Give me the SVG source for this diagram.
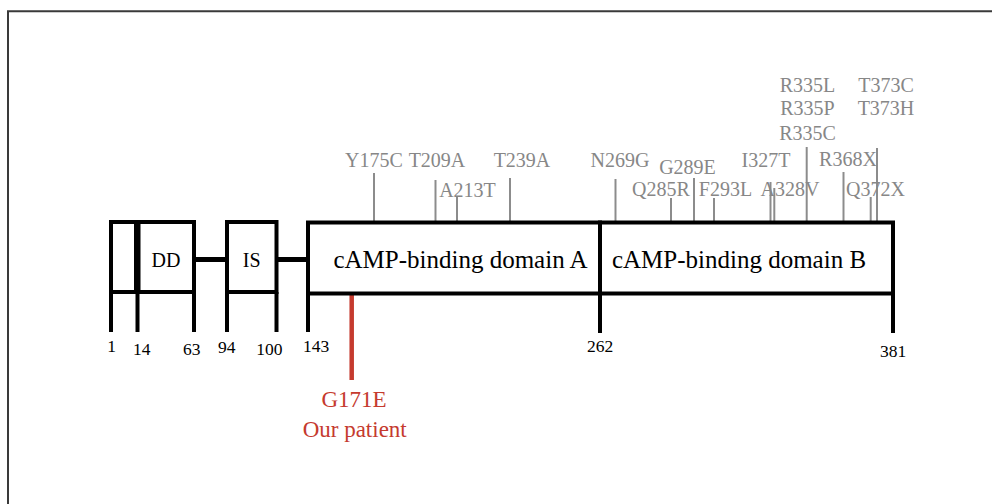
<svg xmlns="http://www.w3.org/2000/svg" width="992" height="504" viewBox="0 0 992 504">
<style>
text{font-family:"Liberation Serif","Times New Roman",serif;text-anchor:middle}
.box{fill:#fff;stroke:#000;stroke-width:4}
.lnk{stroke:#000;stroke-width:5}
.tick{stroke:#000;stroke-width:4}
.num{font-size:17.5px;fill:#000}
.dom{font-size:20px;fill:#000}
.big{font-size:25px;fill:#000}
.mut{font-size:20px;fill:#878787}
.ml{stroke:#8c8c8c;stroke-width:2}
.red{fill:#c53a2e;font-size:23px}
</style>
<rect width="992" height="504" fill="#fff"/>
<g id="frame" fill="none" stroke="#3a3a3a" stroke-width="2">
<path d="M8 504V11.3H992"/>
</g>
<g id="connectors">
<line class="lnk" x1="194" y1="259.5" x2="227" y2="259.5"/>
<line class="lnk" x1="276.5" y1="259.5" x2="308" y2="259.5"/>
<g id="ticks">
<line class="tick" x1="111" y1="292" x2="111" y2="332"/>
<line class="tick" x1="137.5" y1="292" x2="137.5" y2="332"/>
<line class="tick" x1="194" y1="292" x2="194" y2="332"/>
<line class="tick" x1="227" y1="292" x2="227" y2="332"/>
<line class="tick" x1="276.5" y1="292" x2="276.5" y2="332"/>
<line class="tick" x1="308" y1="292" x2="308" y2="332"/>
<line class="tick" x1="600" y1="292" x2="600" y2="333"/>
<line class="tick" x1="893" y1="292" x2="893" y2="333"/>
</g>
<g id="mutation-lines">
<line class="ml" x1="374" y1="173" x2="374" y2="221"/>
<line class="ml" x1="435.5" y1="180" x2="435.5" y2="221"/>
<line class="ml" x1="457" y1="197" x2="457" y2="221"/>
<line class="ml" x1="510" y1="178" x2="510" y2="221"/>
<line class="ml" x1="615.5" y1="179" x2="615.5" y2="221"/>
<line class="ml" x1="671" y1="198" x2="671" y2="221"/>
<line class="ml" x1="694" y1="178" x2="694" y2="221"/>
<line class="ml" x1="714" y1="198" x2="714" y2="221"/>
<line class="ml" x1="770.5" y1="182" x2="770.5" y2="221"/>
<line class="ml" x1="774.3" y1="188" x2="774.3" y2="221"/>
<line class="ml" x1="806.7" y1="147" x2="806.7" y2="221"/>
<line class="ml" x1="843.5" y1="172" x2="843.5" y2="221"/>
<line class="ml" x1="870.7" y1="197" x2="870.7" y2="221"/>
<line class="ml" x1="877" y1="148" x2="877" y2="221"/>
</g>
<line id="g171e-line" x1="351.7" y1="294" x2="351.7" y2="380" stroke="#c53a2e" stroke-width="4.5"/>
</g>
<g id="n-term"><rect class="box" x="111" y="222" width="25" height="70"/></g>
<g id="dd"><rect class="box" x="138.5" y="222" width="55.5" height="70"/><text class="dom" x="166" y="267">DD</text></g>
<g id="is"><rect class="box" x="227" y="222" width="49.5" height="70"/><text class="dom" x="251.7" y="267">IS</text></g>
<g id="camp-a"><rect class="box" x="308" y="222.5" width="292" height="71"/><text class="big" x="460.5" y="268">cAMP-binding domain A</text></g>
<g id="camp-b"><rect class="box" x="600" y="222.5" width="293" height="71"/><text class="big" x="739" y="268">cAMP-binding domain B</text></g>
<g id="numbers">
<text class="num" x="111.7" y="352">1</text>
<text class="num" x="141.7" y="355">14</text>
<text class="num" x="191.7" y="355">63</text>
<text class="num" x="226.7" y="353">94</text>
<text class="num" x="269.3" y="355">100</text>
<text class="num" x="316" y="352">143</text>
<text class="num" x="600" y="352">262</text>
<text class="num" x="893" y="357">381</text>
</g>
<g id="mutations">
<text class="mut" x="374" y="167">Y175C</text>
<text class="mut" x="437" y="167">T209A</text>
<text class="mut" x="467.5" y="196.5">A213T</text>
<text class="mut" x="522" y="167">T239A</text>
<text class="mut" x="620" y="167">N269G</text>
<text class="mut" x="687.5" y="174">G289E</text>
<text class="mut" x="661" y="195.5">Q285R</text>
<text class="mut" x="725.5" y="196">F293L</text>
<text class="mut" x="766" y="166.7">I327T</text>
<text class="mut" x="790" y="196">A328V</text>
<text class="mut" x="807.5" y="91.7">R335L</text>
<text class="mut" x="807.5" y="115">R335P</text>
<text class="mut" x="807.5" y="140">R335C</text>
<text class="mut" x="848" y="166">R368X</text>
<text class="mut" x="875.5" y="196">Q372X</text>
<text class="mut" x="886" y="91.7">T373C</text>
<text class="mut" x="886" y="115">T373H</text>
</g>
<g id="g171e">
<text class="red" x="354" y="406.7">G171E</text>
<text class="red" x="354.7" y="436.7">Our patient</text>
</g>
</svg>
